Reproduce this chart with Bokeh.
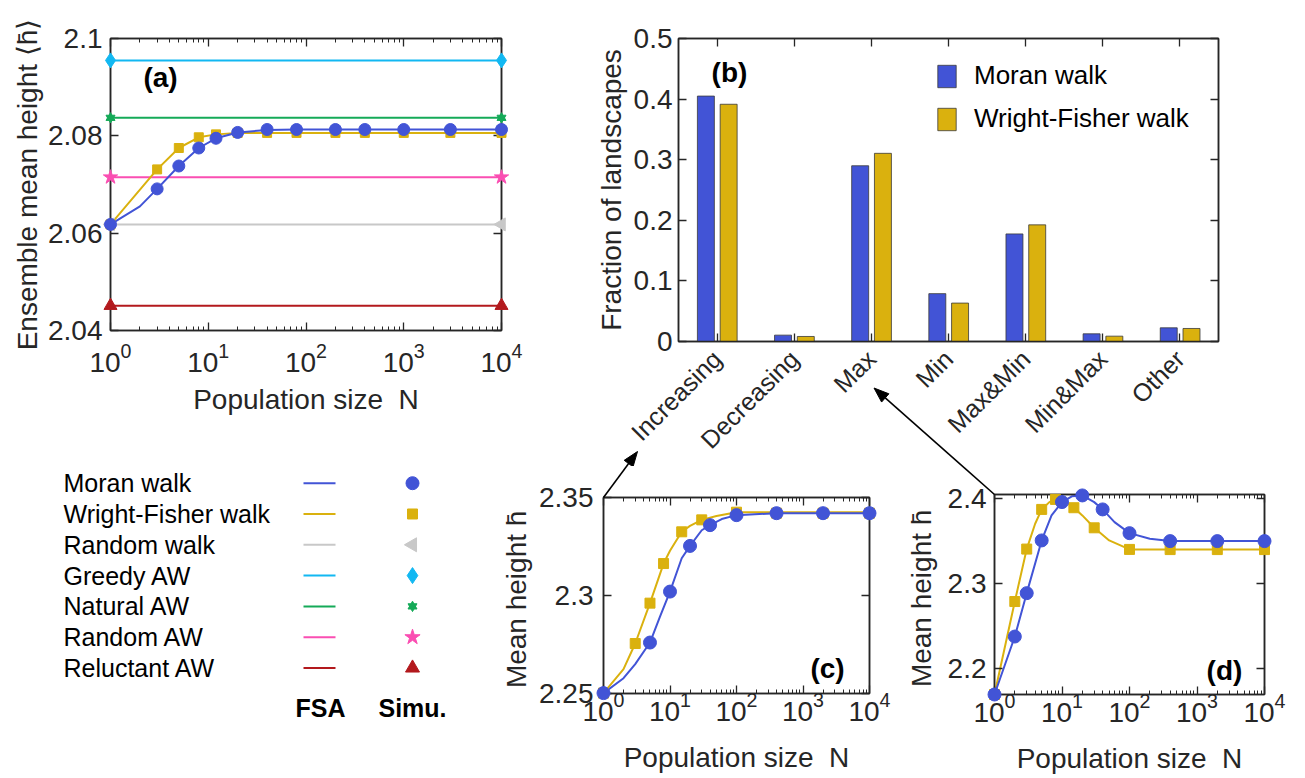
import math
from bokeh.plotting import figure
from bokeh.models import (Range1d, FactorRange, LinearAxis, LogAxis, CategoricalAxis,
                          FixedTicker, CustomJSTickFormatter, Label, ColumnDataSource)
from bokeh.layouts import row, column
from bokeh.transform import dodge
from bokeh.core.properties import value
from bokeh.embed import file_html
from bokeh.resources import INLINE

FONT = "Liberation Sans"
INK = "#262626"
BLUE = "#4254D6"
GOLD = "#DAB10E"
GRAY = "#C8C8C8"
CYAN = "#12B8F2"
GREEN = "#15AA58"
PINK = "#FA4EB2"
RED = "#B3191D"

# ---------------- panel (a) data ----------------
N_a_sim = [1, 3, 5, 8, 12, 20, 40, 80, 200, 400, 1000, 3000, 10000]
moran_a_sim = [2.0618, 2.0691, 2.0738, 2.0775, 2.0795, 2.0807, 2.0813, 2.0813, 2.0813,
               2.0813, 2.0813, 2.0813, 2.0813]
wf_a_sim = [2.0618, 2.0731, 2.0775, 2.0797, 2.0803, 2.0806, 2.0806, 2.0806, 2.0806,
            2.0806, 2.0806, 2.0806, 2.0806]
N_a_moran_fsa = [1, 2, 3, 5, 8, 12, 20, 40, 80, 200, 400, 1000, 3000, 10000]
moran_a_fsa = [2.0618, 2.0655, 2.0691, 2.0738, 2.0775, 2.0795, 2.0807, 2.0812, 2.0813,
               2.0813, 2.0813, 2.0813, 2.0813, 2.0813]
N_a_wf_fsa = [1, 3, 5, 8, 12, 20, 40, 80, 200, 400, 1000, 3000, 10000]
wf_a_fsa = [2.0618, 2.0731, 2.0775, 2.0797, 2.0803, 2.0806, 2.0806, 2.0806, 2.0806,
            2.0806, 2.0806, 2.0806, 2.0806]
N_ends = [1, 10000]
random_walk = [2.0618, 2.0618]
greedy_aw = [2.0955, 2.0955]
natural_aw = [2.0837, 2.0837]
random_aw = [2.0715, 2.0715]
reluctant_aw = [2.0451, 2.0451]

# ---------------- panel (b) data ----------------
categories = ["Increasing", "Decreasing", "Max", "Min", "Max&Min", "Min&Max", "Other"]
moran_frac = [0.405, 0.0105, 0.290, 0.079, 0.1775, 0.0127, 0.0226]
wf_frac = [0.3915, 0.0083, 0.3105, 0.0634, 0.1925, 0.0088, 0.0215]

# ---------------- panel (c) data ----------------
N_c_moran_sim = [1, 5, 10, 20, 40, 100, 400, 2000, 10000]
moran_c_sim = [2.2502, 2.276, 2.302, 2.3253, 2.3359, 2.341, 2.342, 2.342, 2.342]
N_c_wf_sim = [1, 3, 5, 8, 15, 30, 100, 400, 2000, 10000]
wf_c_sim = [2.2502, 2.2755, 2.2961, 2.3163, 2.3325, 2.3386, 2.3425, 2.342, 2.342, 2.342]
N_c_moran_fsa = [1, 2, 3, 5, 7, 10, 15, 20, 30, 40, 60, 100, 400, 10000]
moran_c_fsa = [2.2502, 2.2578, 2.265, 2.276, 2.2888, 2.302, 2.319, 2.3253, 2.3333, 2.3359,
               2.339, 2.341, 2.342, 2.342]
N_c_wf_fsa = [1, 2, 3, 5, 8, 10, 15, 20, 30, 50, 100, 10000]
wf_c_fsa = [2.2502, 2.2624, 2.2755, 2.2961, 2.3163, 2.3228, 2.3325, 2.3355, 2.3386, 2.3406,
            2.3425, 2.3425]

# ---------------- panel (d) data ----------------
N_d_moran_sim = [1, 2, 3, 5, 10, 20, 40, 100, 400, 2000, 10000]
moran_d_sim = [2.169, 2.2374, 2.2886, 2.3508, 2.3961, 2.4039, 2.3874, 2.3594, 2.350, 2.350, 2.350]
N_d_wf_sim = [1, 2, 3, 5, 8, 15, 30, 100, 400, 2000, 10000]
wf_d_sim = [2.169, 2.2787, 2.3406, 2.3874, 2.3992, 2.3894, 2.3657, 2.3402, 2.340, 2.340, 2.340]
N_d_moran_fsa = [1, 2, 3, 5, 7, 10, 14, 20, 30, 40, 60, 100, 200, 400, 10000]
moran_d_fsa = [2.169, 2.2374, 2.2886, 2.3508, 2.3803, 2.3961, 2.4028, 2.4039, 2.396, 2.3874,
               2.3724, 2.3594, 2.3528, 2.350, 2.350]
N_d_wf_fsa = [1, 2, 3, 4, 5, 6.5, 8, 10, 15, 20, 30, 50, 100, 200, 10000]
wf_d_fsa = [2.169, 2.2787, 2.3406, 2.3705, 2.3874, 2.396, 2.3992, 2.3988, 2.3894, 2.3803,
            2.3657, 2.3508, 2.3402, 2.340, 2.340]

# ---------------- key ----------------
key_names = ["Moran walk", "Wright-Fisher walk", "Random walk", "Greedy AW",
             "Natural AW", "Random AW", "Reluctant AW"]
key_colors = [BLUE, GOLD, GRAY, CYAN, GREEN, PINK, RED]

LOG_MAJOR = [1, 10, 100, 1000, 10000]
LOG_MINOR = [m * 10 ** k for k in range(4) for m in range(2, 10)]
DEC_FMT = "return String(Math.round(tick*1000)/1000)"
XLABEL = "Population size\u00a0\u00a0N"
FS = "28px"


def base_fig(width, height, left, right, top, bottom, **kw):
    p = figure(width=width, height=height, min_border_left=left, min_border_right=right,
               min_border_top=top, min_border_bottom=bottom, output_backend="svg",
               toolbar_location=None, frame_align=False, **kw)
    p.grid.visible = False
    p.outline_line_color = INK
    p.outline_line_width = 1.5
    p.background_fill_color = "white"
    p.border_fill_color = "white"
    return p


def style_axis(ax, size=FS, labels=True, minor=True):
    ax.axis_line_color = INK
    ax.axis_line_width = 1.5
    ax.major_tick_in = 8
    ax.major_tick_out = 0
    ax.minor_tick_in = 4
    ax.minor_tick_out = 0
    ax.major_tick_line_color = INK
    ax.minor_tick_line_color = INK if minor else None
    ax.major_tick_line_width = 1.3
    ax.minor_tick_line_width = 1
    ax.major_label_text_font = FONT
    ax.major_label_text_font_size = size if labels else "1px"
    ax.major_label_text_color = INK
    ax.axis_label_text_font = FONT
    ax.axis_label_text_font_size = FS
    ax.axis_label_text_font_style = "normal"
    ax.axis_label_text_color = INK
    if not labels:
        ax.major_label_standoff = 0
        ax.major_label_text_alpha = 0


def hidden_fmt():
    return CustomJSTickFormatter(code="return ''")


def log_panel(p, yticks, ylabel, xstand, xlabstand, ystand, ylabstand):
    xa = p.xaxis[0]
    ya = p.yaxis[0]
    xa.ticker = FixedTicker(ticks=LOG_MAJOR, minor_ticks=LOG_MINOR)
    ya.ticker = FixedTicker(ticks=yticks)
    ya.formatter = CustomJSTickFormatter(code=DEC_FMT)
    style_axis(xa)
    style_axis(ya, minor=False)
    xa.axis_label = XLABEL
    ya.axis_label = ylabel
    xa.major_label_standoff = xstand
    xa.axis_label_standoff = xlabstand
    ya.major_label_standoff = ystand
    ya.axis_label_standoff = ylabstand
    top = LogAxis(ticker=FixedTicker(ticks=LOG_MAJOR, minor_ticks=LOG_MINOR),
                  formatter=hidden_fmt())
    style_axis(top, labels=False)
    p.add_layout(top, "above")
    right = LinearAxis(ticker=FixedTicker(ticks=yticks), formatter=hidden_fmt())
    style_axis(right, labels=False, minor=False)
    p.add_layout(right, "right")


def panel_label(p, text, x, y):
    p.add_layout(Label(x=x, y=y, x_units="screen", y_units="screen", text=text,
                       text_font=FONT, text_font_size="28px", text_font_style="bold",
                       text_align="center", text_baseline="middle", text_color="black"))


def pointer(p, conv, x0, y0, x1, y1, head_len=0.0, head_half=5.5):
    """Pointer arrow in pixels from the frame's lower-left corner; the head sits at (x1, y1)."""
    dx, dy = x1 - x0, y1 - y0
    n = math.hypot(dx, dy)
    ux, uy = dx / n, dy / n
    bx, by = x1 - head_len * ux, y1 - head_len * uy
    ax0, ay0 = conv(x0, y0)
    ax1, ay1 = conv(bx, by)
    p.segment(x0=[ax0], y0=[ay0], x1=[ax1], y1=[ay1], line_color="black", line_width=1.6,
              level="overlay")
    if head_len > 0:
        pts = [(x1, y1), (bx - head_half * uy, by + head_half * ux),
               (bx + head_half * uy, by - head_half * ux)]
        cx, cy = zip(*[conv(a, b) for a, b in pts])
        p.patch(list(cx), list(cy), fill_color="black", line_color="black", line_width=1,
                level="overlay")


def conv_b(px, py):
    return px * len(categories) / 540.0, py * 0.5 / 303.0


def conv_c(px, py):
    return 10 ** (px * 4 / 266.0), 2.25 + py * 0.1 / 196.0


def conv_d(px, py):
    return 10 ** (px * 4 / 270.0), 2.169 + py * (2.405 - 2.169) / 200.0


# ================= (a) =================
p_a = base_fig(560, 466, 110, 59, 38, 136, x_axis_type="log",
               x_range=Range1d(1, 1e4), y_range=Range1d(2.04, 2.1))
log_panel(p_a, [2.04, 2.06, 2.08, 2.1], "Ensemble mean height \u27e8h\u0304\u27e9",
          xstand=12, xlabstand=9, ystand=8, ylabstand=2)

for vals, col in [(greedy_aw, CYAN), (natural_aw, GREEN), (random_aw, PINK),
                  (random_walk, GRAY), (reluctant_aw, RED)]:
    p_a.line(N_ends, vals, line_color=col, line_width=2)
p_a.line(N_a_wf_fsa, wf_a_fsa, line_color=GOLD, line_width=2)
p_a.line(N_a_moran_fsa, moran_a_fsa, line_color=BLUE, line_width=2)

p_a.scatter(N_ends, greedy_aw, marker="diamond", size=15, color=CYAN, level="overlay")
p_a.scatter(N_ends, natural_aw, marker="triangle", size=9, color=GREEN, level="overlay")
p_a.scatter(N_ends, natural_aw, marker="inverted_triangle", size=9, color=GREEN, level="overlay")
p_a.scatter(N_ends, random_aw, marker="star", size=15, color=PINK, level="overlay")
p_a.scatter(N_ends, random_walk, marker="triangle", angle=math.pi / 2, size=13, color=GRAY,
            level="overlay")
p_a.scatter(N_ends, reluctant_aw, marker="triangle", size=13, color=RED, level="overlay")
p_a.scatter(N_a_sim, wf_a_sim, marker="square", size=9, color=GOLD, level="overlay")
p_a.scatter(N_a_sim, moran_a_sim, marker="circle", size=12, color=BLUE, level="overlay")
panel_label(p_a, "(a)", 50, 253)

# ================= (b) =================
src_b = ColumnDataSource(dict(cat=categories, moran=moran_frac, wf=wf_frac))
p_b = base_fig(737, 466, 118, 79, 38, 125, x_range=FactorRange(*categories),
               y_range=Range1d(0, 0.5))
p_b.vbar(x=dodge("cat", -0.145, range=p_b.x_range), top="moran", width=0.22, source=src_b,
         fill_color=BLUE, line_color="#3a3a3a", line_width=0.8, legend_label="Moran walk")
p_b.vbar(x=dodge("cat", 0.15, range=p_b.x_range), top="wf", width=0.22, source=src_b,
         fill_color=GOLD, line_color="#3a3a3a", line_width=0.8, legend_label="Wright-Fisher walk")
xb = p_b.xaxis[0]
yb = p_b.yaxis[0]
style_axis(xb, size="25px", minor=False)
style_axis(yb, minor=False)
xb.major_label_orientation = math.pi / 4
xb.major_label_standoff = 13
yb.ticker = FixedTicker(ticks=[0, 0.1, 0.2, 0.3, 0.4, 0.5])
yb.formatter = CustomJSTickFormatter(code=DEC_FMT)
yb.major_label_standoff = 6
yb.axis_label = "Fraction of landscapes"
yb.axis_label_standoff = 4
top_b = CategoricalAxis()
style_axis(top_b, labels=False, minor=False)
p_b.add_layout(top_b, "above")
right_b = LinearAxis(ticker=FixedTicker(ticks=[0, 0.1, 0.2, 0.3, 0.4, 0.5]),
                     formatter=hidden_fmt())
style_axis(right_b, labels=False, minor=False)
p_b.add_layout(right_b, "right")
lg = p_b.legend[0]
lg.location = (257, 207)
lg.padding = 0
lg.margin = 0
lg.spacing = 12
lg.glyph_width = 23
lg.glyph_height = 28
lg.label_height = 28
lg.label_standoff = 16
lg.label_text_font = FONT
lg.label_text_font_size = "26px"
lg.label_text_color = "black"
lg.border_line_color = None
lg.background_fill_alpha = 0
panel_label(p_b, "(b)", 51, 269)
# pointer arrows (pixels from the lower-left corner of the (b) frame)
pointer(p_b, conv_b, -55.0, -129.0, -41.0, -110.0, head_len=15)
pointer(p_b, conv_b, 288.85, -129.0, 195.5, -46.5, head_len=15)

# ================= (c) =================
p_c = base_fig(403, 310, 113, 24, 31, 83, x_axis_type="log",
               x_range=Range1d(1, 1e4), y_range=Range1d(2.25, 2.35))
log_panel(p_c, [2.25, 2.3, 2.35], "Mean height  h\u0304",
          xstand=-2, xlabstand=18, ystand=10, ylabstand=4)
p_c.line(N_c_wf_fsa, wf_c_fsa, line_color=GOLD, line_width=2)
p_c.line(N_c_moran_fsa, moran_c_fsa, line_color=BLUE, line_width=2)
p_c.scatter(N_c_wf_sim, wf_c_sim, marker="square", size=10, color=GOLD, level="overlay")
p_c.scatter(N_c_moran_sim, moran_c_sim, marker="circle", size=13, color=BLUE, level="overlay")
panel_label(p_c, "(c)", 224, 25)
pointer(p_c, conv_c, 0, 196, 25.9, 231)

# ================= (d) =================
p_d = base_fig(404, 310, 101, 33, 28, 82, x_axis_type="log",
               x_range=Range1d(1, 1e4), y_range=Range1d(2.169, 2.405))
log_panel(p_d, [2.2, 2.3, 2.4], "Mean height  h\u0304",
          xstand=-2, xlabstand=18, ystand=8, ylabstand=8)
p_d.line(N_d_wf_fsa, wf_d_fsa, line_color=GOLD, line_width=2)
p_d.line(N_d_moran_fsa, moran_d_fsa, line_color=BLUE, line_width=2)
p_d.scatter(N_d_wf_sim, wf_d_sim, marker="square", size=10, color=GOLD, level="overlay")
p_d.scatter(N_d_moran_sim, moran_d_sim, marker="circle", size=13, color=BLUE, level="overlay")
panel_label(p_d, "(d)", 230, 24)
pointer(p_d, conv_d, 0, 200, -36.2, 232)

# ================= key panel =================
rows = list(range(len(key_names)))
p_k = figure(width=490, height=310, x_range=Range1d(0, 490), y_range=Range1d(9.523, -0.542),
             x_axis_location=None, y_axis_location=None, min_border=0, frame_align=False,
             output_backend="svg", toolbar_location=None)
p_k.grid.visible = False
p_k.outline_line_color = None
p_k.text(x=[63] * len(rows), y=rows, text=key_names, text_font=value(FONT),
         text_font_size="25px", text_baseline="middle", text_align="left", text_color="black")
p_k.segment(x0=[303] * len(rows), x1=[335] * len(rows), y0=rows, y1=rows,
            line_color=key_colors, line_width=2)
mx = 412
p_k.scatter([mx], [0], marker="circle", size=13, color=BLUE)
p_k.scatter([mx], [1], marker="square", size=10, color=GOLD)
p_k.scatter([mx], [2], marker="triangle", angle=math.pi / 2, size=14, color=GRAY)
p_k.scatter([mx], [3], marker="diamond", size=16, color=CYAN)
p_k.scatter([mx], [4], marker="triangle", size=9, color=GREEN)
p_k.scatter([mx], [4], marker="inverted_triangle", size=9, color=GREEN)
p_k.scatter([mx], [5], marker="star", size=16, color=PINK)
p_k.scatter([mx], [6], marker="triangle", size=14, color=RED)
p_k.text(x=[320, 412], y=[7.31, 7.31], text=["FSA", "Simu."], text_font=value(FONT),
         text_font_size="25px", text_font_style="bold", text_baseline="middle",
         text_align="center", text_color="black")

layout = column(row(p_a, p_b), row(p_k, p_c, p_d))
open("out.html", "w").write(file_html(layout, INLINE))
